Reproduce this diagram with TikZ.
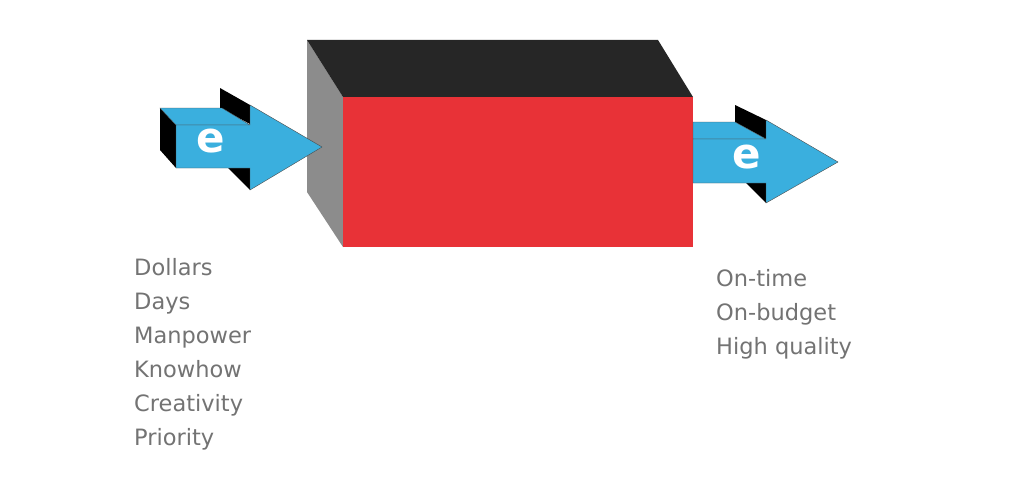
\documentclass[tikz,border=0pt]{standalone}
\usepackage{fontspec}
\setmainfont{DejaVu Sans}
\definecolor{ab}{HTML}{3AAFDE}
\definecolor{rd}{HTML}{E83237}
\begin{document}
\begin{tikzpicture}[x=1pt,y=-1pt,
  blu/.style={fill=ab, draw=black!70, line width=0.4pt},
  lbl/.style={text=black!55, font=\fontsize{22.5}{34}\selectfont, align=left, anchor=north west, inner sep=0pt},
  ee/.style={text=white, font=\fontsize{42}{42}\selectfont\bfseries}]
\useasboundingbox (0,0) rectangle (1024,495);
% box
\fill[black!45] (307,40) -- (343,97) -- (343,247) -- (307,192) -- cycle;
\fill[black!85] (307,40) -- (658,40) -- (693,97) -- (343,97) -- cycle;
\fill[rd] (343,97) rectangle (693,247);
\node (box) at (518,172) {};
% left arrow
\fill[black] (160,108) -- (176,125) -- (176,168) -- (160,150) -- cycle;
\fill[black] (220,88) -- (250,105) -- (250,124) -- (220,108) -- cycle;
\fill[black] (228,168) -- (250,168) -- (250,190) -- cycle;
\draw[blu] (160,108) -- (222,108) -- (250,125) -- (176,125) -- cycle;
\draw[blu] (176,125) -- (250,125) -- (250,105) -- (322,147) -- (250,190) -- (250,168) -- (176,168) -- cycle;
\node[ee] (e1) at (211,141) {e};
% right arrow
\fill[black] (735,105) -- (766,120) -- (766,139) -- (735,122) -- cycle;
\fill[black] (746,183) -- (766,183) -- (766,203) -- cycle;
\draw[blu] (693,122) -- (735,122) -- (766,139) -- (693,139) -- cycle;
\draw[blu] (693,139) -- (766,139) -- (766,120) -- (838,162) -- (766,203) -- (766,183) -- (693,183) -- cycle;
\node[ee] (e2) at (747,157) {e};
% labels
\node[lbl] (in) at (134,258) {Dollars\\Days\\Manpower\\Knowhow\\Creativity\\Priority};
\node[lbl] (out) at (716,269) {On-time\\On-budget\\High quality};
\end{tikzpicture}
\end{document}
